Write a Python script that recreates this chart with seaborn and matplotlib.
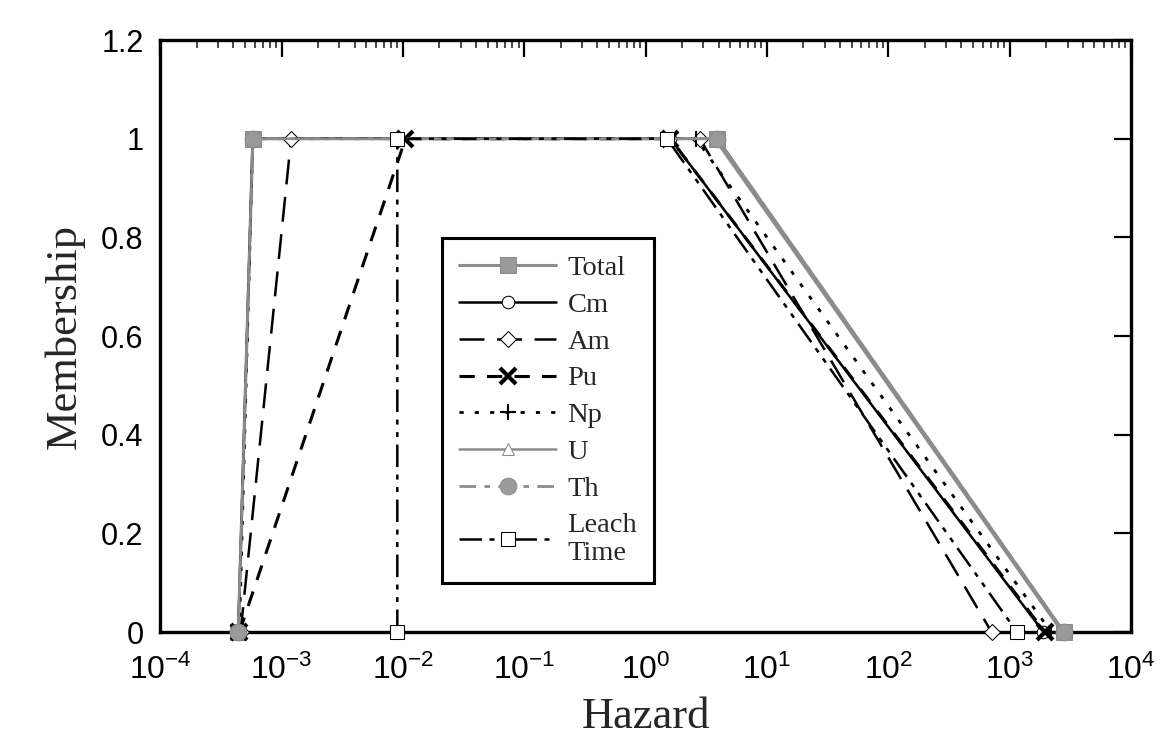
import seaborn as sns
import matplotlib.pyplot as plt
import numpy as np
import pandas as pd
from matplotlib.ticker import LogLocator, NullFormatter, FixedLocator, FixedFormatter

sns.set_style("white")
plt.rcParams['font.family'] = ['Liberation Sans', 'DejaVu Sans']
plt.rcParams['mathtext.fontset'] = 'custom'
plt.rcParams['mathtext.rm'] = 'Liberation Sans'
plt.rcParams['mathtext.it'] = 'Liberation Sans:italic'
plt.rcParams['mathtext.bf'] = 'Liberation Sans:bold'

# trapezoid membership functions: (a,0) (b,1) (c,1) (d,0)
membership = [0, 1, 1, 0]
total = [4.4e-4, 5.8e-4, 3.9, 2800]
cm = [4.4e-4, 5.8e-4, 1.6, 1900]
am = [4.6e-4, 1.2e-3, 2.8, 710]
pu = [4.5e-4, 1.05e-2, 1.6, 1950]
np_ = [4.5e-4, 5.8e-4, 2.6, 2200]
u = [4.4e-4, 5.8e-4, 3.7, 2700]
th = [4.4e-4, 5.8e-4, 3.9, 2800]
leach = [9.0e-3, 9.0e-3, 1.5, 1150]

names = ['Total', 'Cm', 'Am', 'Pu', 'Np', 'U', 'Th', 'Leach\nTime']
hazards = [total, cm, am, pu, np_, u, th, leach]

gray = '#8c8c8c'
styles = {
    'Total': dict(color=gray, ls='-', lw=2.2, marker='s', ms=11, mfc='#9a9a9a', mec=gray),
    'Cm': dict(color='black', ls='-', lw=1.8, marker='o', ms=9, mfc='white', mec='black'),
    'Am': dict(color='black', ls=(0, (10, 5)), lw=1.8, marker='D', ms=8, mfc='white', mec='black'),
    'Pu': dict(color='black', ls=(0, (5, 4)), lw=2.2, marker='x', ms=11, mew=3, mec='black'),
    'Np': dict(color='black', ls=(0, (1.5, 4)), lw=2.0, marker='+', ms=11, mew=1.5, mec='black'),
    'U': dict(color=gray, ls='-', lw=1.8, marker='^', ms=9, mfc='white', mec=gray),
    'Th': dict(color=gray, ls=(0, (6, 3, 2, 3)), lw=2.0, marker='o', ms=12, mfc='#9a9a9a', mec=gray),
    'Leach\nTime': dict(color='black', ls=(0, (9, 3, 2, 3, 2, 3)), lw=1.8, marker='s', ms=10, mfc='white', mec='black'),
}

fig = plt.figure(figsize=(11.69, 7.41), dpi=100)
ax = fig.add_axes([0.137, 0.147, 0.8305, 0.799])
ax.set_xscale('log')

for name, h in zip(names, hazards):
    df = pd.DataFrame({'Hazard': h, 'Membership': membership})
    st = dict(styles[name])
    ls = st.pop('ls')
    sns.lineplot(data=df, x='Hazard', y='Membership', ax=ax, sort=False, estimator=None,
                 label=name, linestyle=ls, clip_on=False, zorder=3, **st)

ax.set_xlim(1e-4, 1e4)
ax.set_ylim(0, 1.2)

yticks = [0, 0.2, 0.4, 0.6, 0.8, 1, 1.2]
ylabels = ['0', '0.2', '0.4', '0.6', '0.8', '1', '1.2']
ax.yaxis.set_major_locator(FixedLocator(yticks))
ax.yaxis.set_major_formatter(FixedFormatter(ylabels))

xticks = [10.0 ** e for e in range(-4, 5)]
ax.xaxis.set_major_locator(FixedLocator(xticks))
ax.xaxis.set_major_formatter(FixedFormatter([f'$10^{{{e}}}$' for e in range(-4, 5)]))
ax.xaxis.set_minor_locator(LogLocator(base=10, subs=np.arange(2, 10), numticks=100))
ax.xaxis.set_minor_formatter(NullFormatter())

ax.tick_params(axis='both', which='major', direction='in', length=12, width=1.6,
               top=True, right=True, colors='black')
ax.tick_params(axis='y', which='major', labelsize=22, pad=12)
ax.tick_params(axis='x', which='major', labelsize=23, pad=16)
ax.tick_params(axis='both', which='minor', direction='in', length=6, width=1.2,
               top=True, right=True)
for sp in ax.spines.values():
    sp.set_linewidth(2.4)
    sp.set_color('black')

ax.set_xlabel('Hazard', family=['Liberation Serif'], fontsize=32, labelpad=8)
ax.set_ylabel('Membership', family=['Liberation Serif'], fontsize=32, labelpad=12)

leg = ax.legend(loc='upper left', bbox_to_anchor=(428 / 1169, 1 - 224 / 741),
                bbox_transform=fig.transFigure, prop={'family': 'Liberation Serif', 'size': 20.5},
                fancybox=False, framealpha=1, edgecolor='black', handlelength=3.4,
                labelspacing=0.38, borderpad=0.6, handletextpad=0.4)
leg.get_frame().set_linewidth(2.2)

fig.savefig('out.png', dpi=100)
